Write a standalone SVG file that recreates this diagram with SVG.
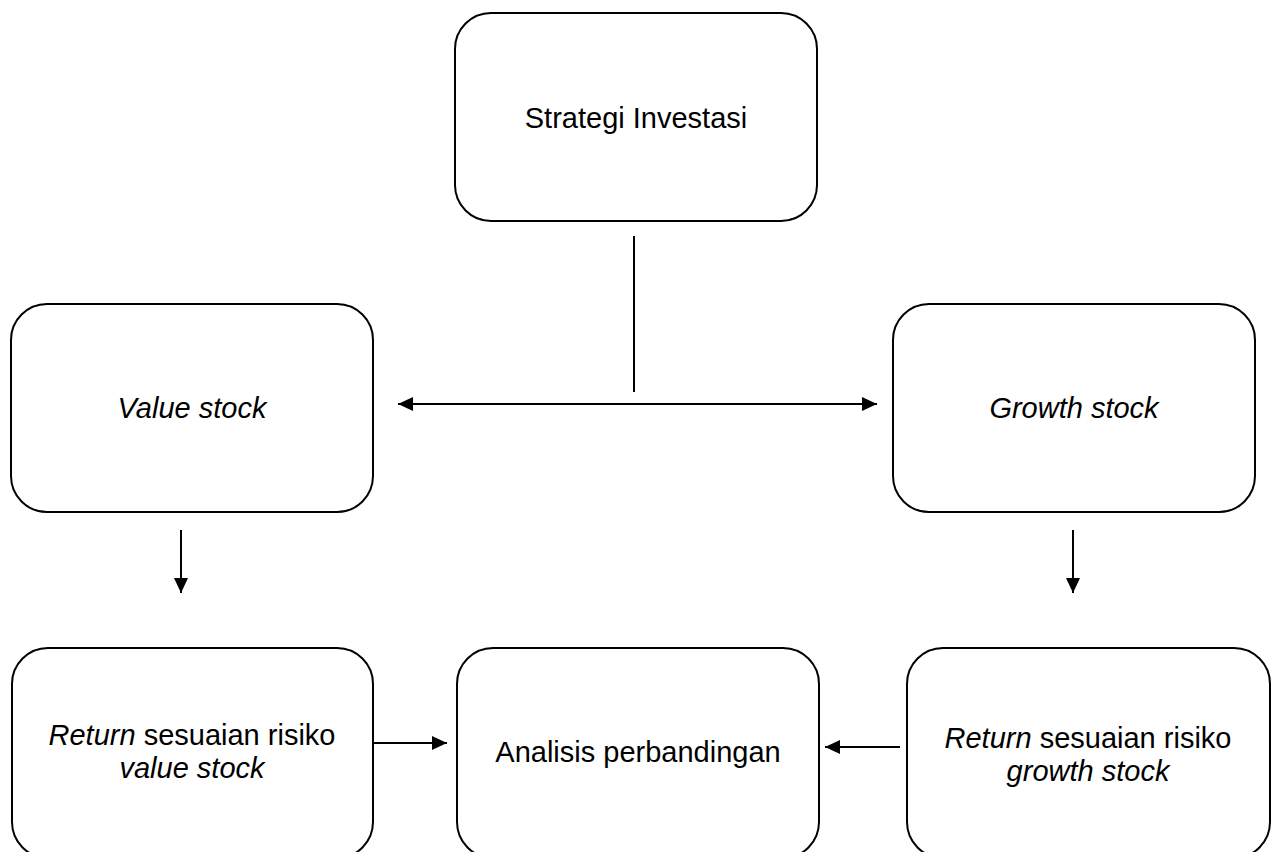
<svg xmlns="http://www.w3.org/2000/svg" width="1278" height="852" viewBox="0 0 1278 852">
<style>
.box{fill:#fff;stroke:#000;stroke-width:2}
.t{font-family:"Liberation Sans",Arial,sans-serif;font-size:29px;fill:#000;text-anchor:middle}
.i{font-style:italic}
.c{stroke:#000;stroke-width:2;fill:none}
</style>
<defs>
<marker id="ah" viewBox="0 0 15 14" refX="15" refY="7" markerWidth="15" markerHeight="14" markerUnits="userSpaceOnUse" orient="auto-start-reverse">
<path d="M0,0 L15,7 L0,14 Z" fill="#000"/>
</marker>
</defs>
<rect width="1278" height="852" fill="#fff"/>
<g id="n-strategi"><rect class="box" x="455" y="13" width="362" height="208" rx="36"/><text class="t" x="636" y="128">Strategi Investasi</text></g>
<g id="n-value"><rect class="box" x="11" y="304" width="362" height="208" rx="36"/><text class="t i" x="192" y="418">Value stock</text></g>
<g id="n-growth"><rect class="box" x="893" y="304" width="362" height="208" rx="36"/><text class="t i" x="1074" y="418">Growth stock</text></g>
<g id="n-retvalue"><rect class="box" x="12" y="648" width="361" height="210" rx="36"/><text class="t" x="192" y="745"><tspan class="i">Return</tspan> sesuaian risiko</text><text class="t i" x="192" y="778">value stock</text></g>
<g id="n-analisis"><rect class="box" x="457" y="648" width="362" height="210" rx="36"/><text class="t" x="638" y="762">Analisis perbandingan</text></g>
<g id="n-retgrowth"><rect class="box" x="907" y="648" width="363" height="210" rx="36"/><text class="t" x="1088" y="748"><tspan class="i">Return</tspan> sesuaian risiko</text><text class="t i" x="1088" y="781">growth stock</text></g>
<g id="connectors">
<line class="c" x1="634" y1="236" x2="634" y2="392"/>
<line class="c" x1="398" y1="404" x2="877" y2="404" marker-start="url(#ah)" marker-end="url(#ah)"/>
<line class="c" x1="181" y1="530" x2="181" y2="593" marker-end="url(#ah)"/>
<line class="c" x1="1073" y1="530" x2="1073" y2="593" marker-end="url(#ah)"/>
<line class="c" x1="373" y1="743" x2="447" y2="743" marker-end="url(#ah)"/>
<line class="c" x1="900" y1="747" x2="825" y2="747" marker-end="url(#ah)"/>
</g>
</svg>
